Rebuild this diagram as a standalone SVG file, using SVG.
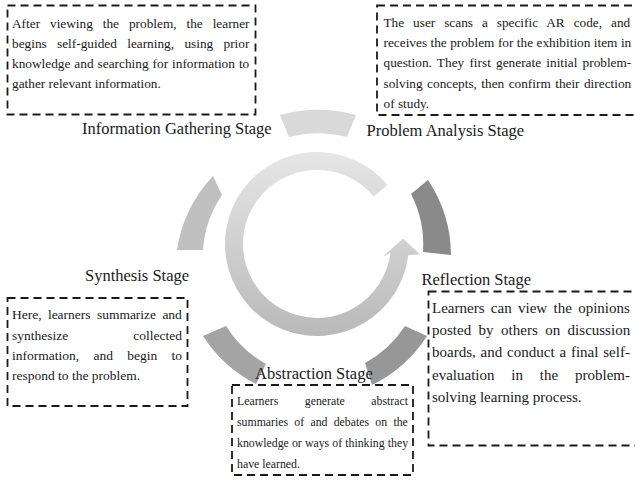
<svg xmlns="http://www.w3.org/2000/svg" width="635" height="480" viewBox="0 0 635 480">
  <defs>
    <linearGradient id="ringFill" gradientUnits="userSpaceOnUse" x1="0" y1="152" x2="0" y2="336">
      <stop offset="0" stop-color="#e6e6e6"/>
      <stop offset="1" stop-color="#b9b9b9"/>
    </linearGradient>
    <clipPath id="clipProblem">
      <rect x="378" y="8" width="257" height="102.5"/>
    </clipPath>
  </defs>
  <style>
    .box { fill: none; stroke: #1a1a1a; stroke-width: 1.8; stroke-dasharray: 8 5; }
    .body { font-family: "Liberation Serif", "Times New Roman", serif; fill: #1a1a1a; }
    .label { font-family: "Liberation Serif", "Times New Roman", serif; font-size: 16.5px; fill: #1a1a1a; }
    .seg { stroke: none; }
  </style>

  <!-- outer ring of stage segments -->
  <g id="cycle-segments">
    <path class="seg" fill="#d9d9d9" d="M280,115 A140,140 0 0 1 356,115 L347,137 A113,113 0 0 0 289,137 Z"/>
    <path class="seg" fill="#8a8a8a" d="M428,180 A137,137 0 0 1 451,255 L423,252 A110,110 0 0 0 411,194 Z"/>
    <path class="seg" fill="#979797" d="M427,336 A137,137 0 0 1 372,385 L365,363 A110,110 0 0 0 405,326 Z"/>
    <path class="seg" fill="#a4a4a4" d="M256,384 A137,137 0 0 1 203,336 L226,326 A110,110 0 0 0 266,364 Z"/>
    <path class="seg" fill="#c0c0c0" d="M177,250 A137,137 0 0 1 213,176 L222,195 A110,110 0 0 0 203,250 Z"/>
  </g>

  <!-- circular arrow in the middle -->
  <g id="connectors">
    <path fill="url(#ringFill)" d="M387.5,184.9 A92,92 0 1 0 408.3,255.2 L420,254.5 L403,238.5 L383,256.5 L390.4,253 A74,74 0 1 1 373.7,196.4 Z"/>
  </g>

  <!-- Information Gathering Stage -->
  <g id="stage-information">
    <rect class="box" x="7.5" y="5.5" width="248" height="109"/>
    <text class="body" font-size="13.3">
      <tspan x="12" y="28.3" style="word-spacing:6.6px">After viewing the problem, the learner</tspan>
      <tspan x="12" y="48.3" style="word-spacing:7px">begins self-guided learning, using prior</tspan>
      <tspan x="12" y="68.3" style="word-spacing:0.7px">knowledge and searching for information to</tspan>
      <tspan x="12" y="88.3">gather relevant information.</tspan>
    </text>
    <text class="label" x="82" y="133.5">Information Gathering Stage</text>
  </g>

  <!-- Problem Analysis Stage -->
  <g id="stage-problem">
    <rect class="box" x="377" y="5.5" width="262" height="109.5"/>
    <text class="body" font-size="13.3" clip-path="url(#clipProblem)">
      <tspan x="383.5" y="26.7" style="word-spacing:5.6px">The user scans a specific AR code, and</tspan>
      <tspan x="383.5" y="46.7" style="word-spacing:0.1px">receives the problem for the exhibition item in</tspan>
      <tspan x="383.5" y="66.7" style="word-spacing:1.9px">question. They first generate initial problem-</tspan>
      <tspan x="383.5" y="88.3" style="word-spacing:1.1px">solving concepts, then confirm their direction</tspan>
      <tspan x="383.5" y="108.3">of study.</tspan>
    </text>
    <text class="label" x="366.5" y="136">Problem Analysis Stage</text>
  </g>

  <!-- Reflection Stage -->
  <g id="stage-reflection">
    <rect class="box" x="428.5" y="291.5" width="212" height="154"/>
    <text class="body" font-size="15">
      <tspan x="432" y="313.3" style="word-spacing:2.6px">Learners can view the opinions</tspan>
      <tspan x="432" y="335" style="word-spacing:3.7px">posted by others on discussion</tspan>
      <tspan x="432" y="357" style="word-spacing:1.1px">boards, and conduct a final self-</tspan>
      <tspan x="432" y="380" style="word-spacing:13.1px">evaluation in the problem-</tspan>
      <tspan x="432" y="402">solving learning process.</tspan>
    </text>
    <text class="label" x="421.5" y="285">Reflection Stage</text>
  </g>

  <!-- Abstraction Stage -->
  <g id="stage-abstraction">
    <rect class="box" x="232" y="385" width="181" height="90"/>
    <text class="body" font-size="11.8">
      <tspan x="237" y="405" style="word-spacing:23.6px">Learners generate abstract</tspan>
      <tspan x="237" y="426" style="word-spacing:3.3px">summaries of and debates on the</tspan>
      <tspan x="237" y="447" style="word-spacing:0.2px">knowledge or ways of thinking they</tspan>
      <tspan x="237" y="468">have learned.</tspan>
    </text>
    <text class="label" x="255" y="378.5">Abstraction Stage</text>
  </g>

  <!-- Synthesis Stage -->
  <g id="stage-synthesis">
    <rect class="box" x="7.5" y="298" width="180" height="108"/>
    <text class="body" font-size="13.5">
      <tspan x="12" y="318.5" style="word-spacing:2.9px">Here, learners summarize and</tspan>
      <tspan x="12" y="339.5" style="word-spacing:61.6px">synthesize collected</tspan>
      <tspan x="12" y="359.5" style="word-spacing:10.9px">information, and begin to</tspan>
      <tspan x="12" y="380">respond to the problem.</tspan>
    </text>
    <text class="label" x="85" y="280.5">Synthesis Stage</text>
  </g>
</svg>
